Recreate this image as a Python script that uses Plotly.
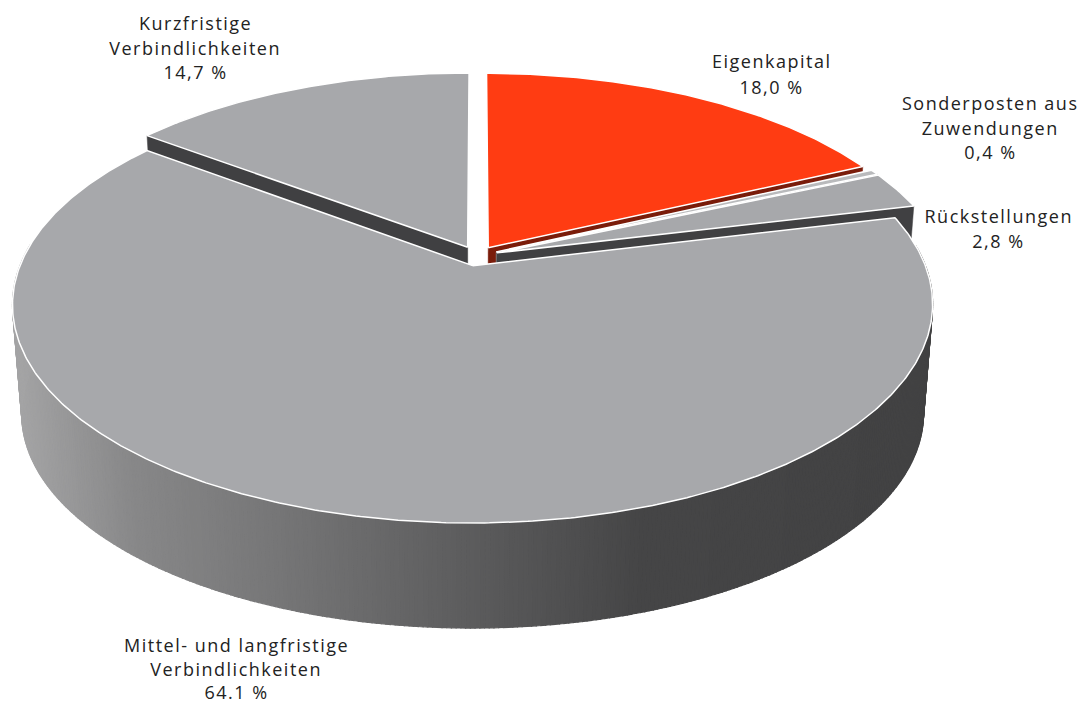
import math
import plotly.graph_objects as go

# Data
categories = ["Eigenkapital", "Sonderposten aus Zuwendungen", "Rückstellungen",
              "Mittel- und langfristige Verbindlichkeiten", "Kurzfristige Verbindlichkeiten"]
shares = [18.0, 0.4, 2.8, 64.1, 14.7]
top_colors = ["#ff3c12", "#b9babc", "#a7a8ab", "#a7a8ab", "#a7a8ab"]
wall_colors = ["#7a1c0a", "#8a8a8c", "#404042", "#404042", "#404042"]
label_lines = [
    (["Eigenkapital", "18,0 %"], 771, 61, 25.5),
    (["Sonderposten aus", "Zuwendungen", "0,4 %"], 990, 103, 24.5),
    (["Rückstellungen", "2,8 %"], 998, 216, 24.5),
    (["Mittel- und langfristige", "Verbindlichkeiten", "64.1 %"], 236, 645, 23.5),
    (["Kurzfristige", "Verbindlichkeiten", "14,7 %"], 195, 23, 24.7),
]
grad_x = [12, 130, 256, 450, 640, 932]
grad_v = [165, 136, 121, 95, 70, 66]

# Projection parameters
CX, CY, R, RT, K, EXPL = 477.0, 256.0, 449.0, 208.0, 0.177, 0.047
Q, VY = 0.98, 5775.0


def proj(x, z):
    s = 1 / (1 + K * z)
    return CX + R * x * s, CY - RT * z * s


def lower(p):
    return CX + (p[0] - CX) * Q, VY + (p[1] - VY) * Q


def grey(x):
    for i in range(len(grad_x) - 1):
        if x <= grad_x[i + 1]:
            f = max(0.0, (x - grad_x[i]) / (grad_x[i + 1] - grad_x[i]))
            v = int(grad_v[i] + f * (grad_v[i + 1] - grad_v[i]))
            return f"rgb({v},{v},{v + 1})"
    return f"rgb({grad_v[-1]},{grad_v[-1]},{grad_v[-1]})"


def poly(pts, fill, line=None, width=1.2):
    return go.Scatter(x=[p[0] for p in pts] + [pts[0][0]], y=[p[1] for p in pts] + [pts[0][1]],
                      mode="lines", fill="toself", fillcolor=fill,
                      line=dict(color=line or fill, width=width),
                      hoverinfo="skip", showlegend=False)


bounds = []
acc = 0.0
for v in shares:
    bounds.append((acc * 3.6, (acc + v) * 3.6))
    acc += v

fig = go.Figure()
for i in [0, 1, 2, 4, 3]:
    a0, a1 = [math.radians(b) for b in bounds[i]]
    mid = (a0 + a1) / 2
    ox, oz = EXPL * math.sin(mid), EXPL * math.cos(mid)
    n = max(4, int(bounds[i][1] - bounds[i][0]) * 2)
    ang = [a0 + (a1 - a0) * j / n for j in range(n + 1)]
    rim = [proj(ox + math.sin(a), oz + math.cos(a)) for a in ang]
    apex = proj(ox, oz)
    # outer wall, only where it can face the viewer
    for j in range(n):
        if math.cos((ang[j] + ang[j + 1]) / 2) > 0.1:
            continue
        xm = (rim[j][0] + rim[j + 1][0]) / 2
        col = grey(xm) if i == 3 else wall_colors[i]
        fig.add_trace(poly([rim[j], rim[j + 1], lower(rim[j + 1]), lower(rim[j])], col))
    # radial walls that face the viewer
    if math.sin(a0) < -1e-6:
        fig.add_trace(poly([apex, rim[0], lower(rim[0]), lower(apex)], wall_colors[i], width=0.5))
    if math.sin(a1) > 1e-6:
        fig.add_trace(poly([apex, rim[-1], lower(rim[-1]), lower(apex)], wall_colors[i], width=0.5))
    # top
    fig.add_trace(poly([apex] + rim, top_colors[i], "#ffffff", 1.5))

annotations = []
for lines, xc, y0, step in label_lines:
    for k, t in enumerate(lines):
        annotations.append(dict(x=xc, y=y0 + k * step, text=t, showarrow=False, xanchor="center",
                                yanchor="middle", font=dict(family="Open Sans", size=18, color="#222222")))

fig.update_layout(
    width=1080, height=703, margin=dict(l=0, r=0, t=0, b=0),
    paper_bgcolor="white", plot_bgcolor="white", showlegend=False,
    xaxis=dict(range=[0, 1080], visible=False, fixedrange=True),
    yaxis=dict(range=[703, 0], visible=False, fixedrange=True),
    annotations=annotations,
)
fig.write_html("out.html", config={"displayModeBar": False},
               post_script="document.body.style.margin='0';document.querySelectorAll('.annotation-text').forEach(function(t){t.style.letterSpacing='1.5px';});")
